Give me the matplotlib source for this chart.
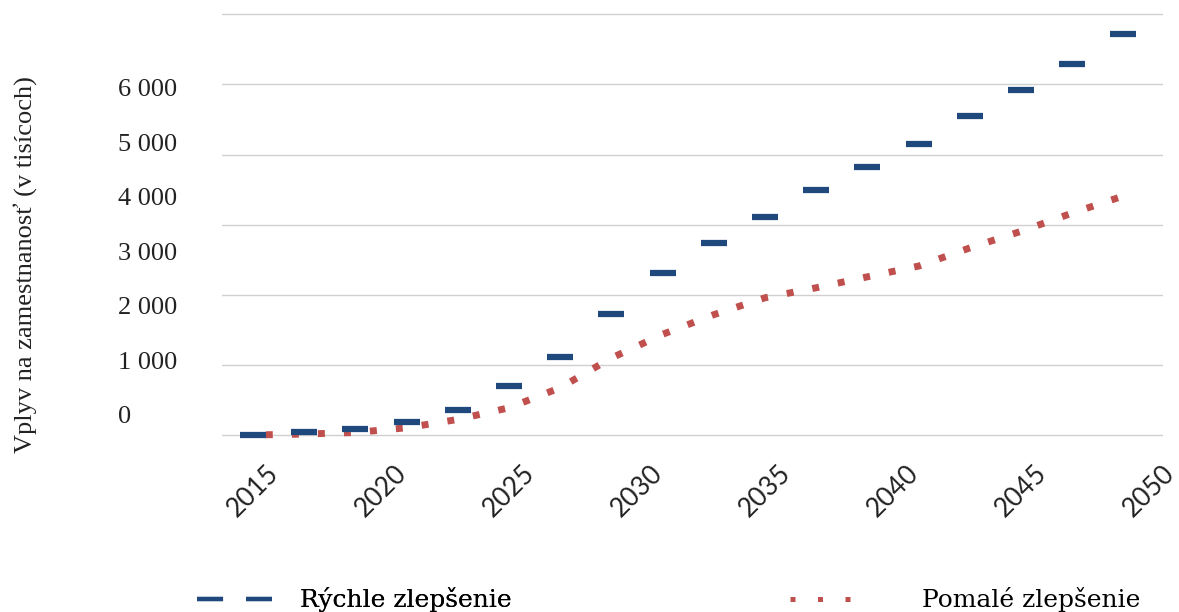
import matplotlib
matplotlib.use('Agg')
import matplotlib.pyplot as plt
from matplotlib.lines import Line2D

# ---- data -------------------------------------------------------------
years = [2015, 2017, 2019, 2021, 2023, 2025, 2027, 2029, 2031,
         2033, 2035, 2037, 2039, 2041, 2043, 2045, 2047, 2049]
fast = [0, 36, 86, 185, 361, 702, 1117, 1719, 2308,
        2742, 3114, 3498, 3823, 4155, 4544, 4914, 5297, 5718]
slow = [0, 13, 36, 103, 222, 388, 674, 1098, 1436,
        1716, 1957, 2100, 2256, 2409, 2668, 2905, 3165, 3409]
tick_years = [2015, 2020, 2025, 2030, 2035, 2040, 2045, 2050]
y_ticks = [0, 1000, 2000, 3000, 4000, 5000, 6000]
y_tick_labels = ['0', '1 000', '2 000', '3 000', '4 000', '5 000', '6 000']
series_names = ['Rýchle zlepšenie', 'Pomalé zlepšenie']
y_title = 'Vplyv na zamestnanosť (v tisícoch)'

BLUE = '#1F497D'
RED = '#C0504D'
SERIF = 'Liberation Serif'

W, H = 1179, 612
fig = plt.figure(figsize=(W / 100, H / 100), dpi=100)

# plot area: x from 222 to 1163 px; value 0 at 435 px, 6000 at 14.3 px
px_per_year = 25.6
x0_px = 253  # pixel of 2015
px_per_unit = (435 - 14.3) / 6000
top_px, bot_px = 11, 440
ax = fig.add_axes([222 / W, 1 - bot_px / H, 941 / W, (bot_px - top_px) / H])
ax.set_xlim(2015 - (x0_px - 222) / px_per_year,
            2015 + (1163 - x0_px) / px_per_year)
y_lo = -(bot_px - 435) / px_per_unit
y_hi = 6000 + (14.3 - top_px) / px_per_unit
ax.set_ylim(y_lo, y_hi)
ax.set_yticks(y_ticks)
ax.tick_params(axis='y', labelleft=False, length=0)
ax.grid(axis='y', color='#d0d0d0', lw=1.0)
ax.set_axisbelow(True)
for s in ax.spines.values():
    s.set_visible(False)

ax.plot(years, slow, color=RED, lw=5, ls=(1.9, (1, 2.75)), zorder=2,
        clip_on=False)
ax.plot(years, fast, ls='none', marker='_', ms=18.7, mew=4.5, color=BLUE,
        zorder=3, clip_on=False)

ax.set_xticks(tick_years)
ax.set_xticklabels([str(y) for y in tick_years], rotation=45,
                   fontfamily='Lato', fontsize=19, color='#222222')
ax.tick_params(axis='x', length=0, pad=14.5)

# label axis (tick labels sit on their own scale, as in the original)
lab_scale = 1.2862
lab_off = -367
ax2 = ax.twinx()
ax2.yaxis.tick_left()
ax2.yaxis.set_label_position('left')
ax2.set_ylim(lab_off + lab_scale * y_lo, lab_off + lab_scale * y_hi)
ax2.set_yticks(y_ticks)
ax2.set_yticklabels(y_tick_labels, fontfamily=SERIF, fontsize=19,
                    color='#222222')
for lbl in ax2.get_yticklabels():
    lbl.set_horizontalalignment('left')
ax2.tick_params(axis='y', length=0, pad=75)
for s in ax2.spines.values():
    s.set_visible(False)
ax2.set_ylabel(y_title, fontfamily=SERIF, fontsize=19, color='#222222',
               ha='center', va='center')
ax2.yaxis.set_label_coords((25 - 222) / 941, (bot_px - 265) / (bot_px - top_px))

# legends
LEG_FONT = {'family': 'DejaVu Serif', 'size': 18}
fs_px = 18 / 72 * 100
h1 = Line2D([], [], color=BLUE, lw=3.1, ls=(0, (6.05, 5.35)))
h2 = Line2D([], [], color=RED, lw=3.6, ls=(0, (1, 4.5)))
leg1 = fig.legend([h1], [series_names[0]], loc='center left',
                  bbox_to_anchor=(197 / W, (H - 600) / H), frameon=False,
                  borderpad=0, borderaxespad=0,
                  handlelength=75 / fs_px, handletextpad=28 / fs_px,
                  prop=LEG_FONT)
leg2 = fig.legend([h2], [series_names[1]], loc='center left',
                  bbox_to_anchor=(790 / W, (H - 600) / H), frameon=False,
                  borderpad=0, borderaxespad=0,
                  handlelength=62 / fs_px, handletextpad=70 / fs_px,
                  prop=LEG_FONT)
fig.add_artist(leg1)

fig.savefig('out.png', dpi=100)
